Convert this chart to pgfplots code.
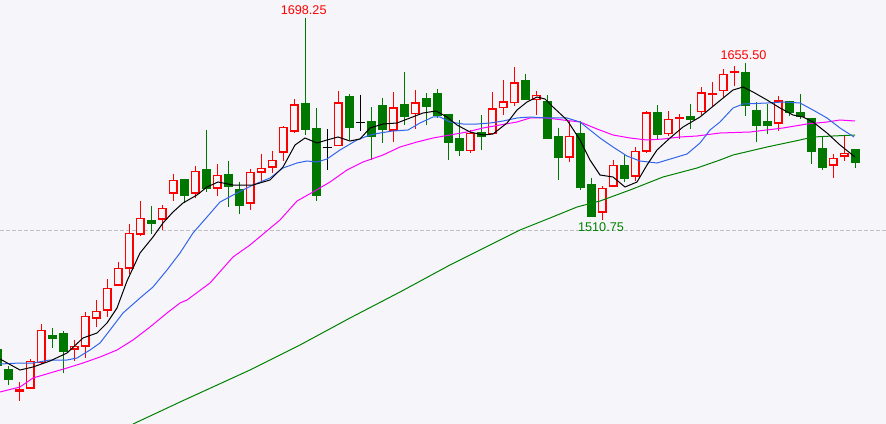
\documentclass[border=0pt]{standalone}
\usepackage{pgfplots}
\pgfplotsset{compat=1.18}
\usepackage{pgfplotstable}
\usepackage{fontspec}
\setmainfont{Liberation Sans}
\definecolor{bgc}{RGB}{246,246,250}
\definecolor{dn}{RGB}{0,120,0}
\definecolor{maG}{RGB}{0,128,0}
\definecolor{maB}{RGB}{50,100,235}
\definecolor{maM}{RGB}{255,0,255}
\definecolor{upc}{RGB}{255,0,0}

% candle values (vertical position, top = 0)
\pgfplotstableread{
i h c o l
2 382 389 391.5 401
3 359 360.5 388.5 388.5
4 324 329.5 363 363.5
7 339.5 345.5 349.5 360.5
8 312 316 346.5 358
9 300 311 318.5 326.5
10 279 287.5 310.5 316.5
11 261.5 267.5 285.5 285.5
12 223.5 232.5 268.5 274
13 201 217.5 234.5 235.5
15 205 207.5 219.5 230
16 173.5 179.5 193.5 200.5
18 166 170.5 193.5 197.5
20 164 174.5 188.5 195.5
23 168.5 171.5 203.5 209.5
24 153.5 167.5 172.5 181.5
25 150.5 159.5 167.5 172.5
26 126 126.5 152.5 160.5
27 99 104.5 131.5 132.5
31 91 102.5 146 146
36 92.5 107.5 130.5 141.5
38 90 102.5 114.5 128.5
43 130 133 151 152.5
45 92.5 108.5 134 134
46 80 101.5 108.5 115
47 67.5 82.5 103.5 106.5
49 91 95 100.5 115.5
52 121.5 135.5 157.5 161.5
55 186 188 212.5 219.5
56 160 165 186.5 186.5
58 146.5 151 176.5 181
59 111.5 112.5 151.5 153
61 111.5 119 134 136
62 114 117.3 118.7 138.5
64 87.5 92.5 112.5 115
65 82 93 95.5 106
66 69 74 91 97.5
67 66 71.3 73.3 86.5
71 96.5 100.5 123.5 131
76 154 157.5 165.5 177.5
77 135.5 152.5 156.5 160.5
}\tabUp

\pgfplotstableread{
i h o c l
0 345 349 366 370
1 366 369 380 385
5 328 335 339 348
6 331 333 351.5 372.5
14 206 219.5 223.5 234
17 179 179.3 195.7 203
19 130 169 189 191.5
21 161 173.5 186.5 206.5
22 181.5 188.5 205.5 213.5
28 18.3 103.5 129.5 135
29 108.5 127.5 195.5 201
32 94 96 127.5 140
34 107.5 121 136.5 160
35 98.5 105 130 142.5
37 72 104 117.5 124.5
39 93.5 98 107.5 124.5
40 89.5 93.5 116 118.5
41 114 114 142.5 160
42 120 138 150.5 156
44 115 132 136.5 149.5
48 74 80 100.5 100.5
50 95.5 101.5 138.5 138.5
51 127.5 136 157.5 180
53 121 133 187.5 190
54 177.5 184 216.5 216.5
57 154 165 178.5 181.5
60 105.5 112.5 135 140
63 104 116.5 120.5 129
68 63.5 72 106.5 116.5
69 102.5 110 126 141.5
70 104.5 121 126 133.5
72 101 101 113.5 116
73 94.5 112 117.5 119.5
74 118 118 151.5 163.5
75 136 148 167.5 169.5
78 149 149 162.5 167.5
}\tabDn

\pgfplotstableread{
i h oc l
30 129 147.5 169.5
33 95 122.5 130.5
}\tabDoji

\begin{document}
\begin{tikzpicture}
\begin{axis}[
  scale only axis, width=886bp, height=424bp,
  xmin=0, xmax=886, ymin=0, ymax=424, y dir=reverse,
  axis line style={draw=none}, ticks=none,
  axis background/.style={fill=bgc},
  clip=true,
]
% dashed reference line
\addplot[color={rgb,255:red,190;green,190;blue,195}, line width=0.8bp, dash pattern=on 4bp off 2bp] coordinates {(0,230.3) (886,230.3)};

% wicks
\addplot[upc, line width=1bp, -, quiver={u=0, v=\thisrow{l}-\thisrow{h}}]
  table[x expr=11*\thisrow{i}-3, y=h]{\tabUp};
\addplot[dn, line width=1bp, -, quiver={u=0, v=\thisrow{l}-\thisrow{h}}]
  table[x expr=11*\thisrow{i}-3, y=h]{\tabDn};
\addplot[black, line width=1bp, -, quiver={u=0, v=\thisrow{l}-\thisrow{h}}]
  table[x expr=11*\thisrow{i}-3, y=h]{\tabDoji};

% bodies
\addplot[upc, line width=9bp, -, quiver={u=0, v=\thisrow{c}-\thisrow{o}}]
  table[x expr=11*\thisrow{i}-3, y=o]{\tabUp};
\addplot[bgc, line width=6.4bp, -, quiver={u=0, v={min(\thisrow{c}-\thisrow{o}+2.6,0)}}]
  table[x expr=11*\thisrow{i}-3, y expr=\thisrow{o}-1.3]{\tabUp};
\addplot[dn, line width=9bp, -, quiver={u=0, v=\thisrow{c}-\thisrow{o}}]
  table[x expr=11*\thisrow{i}-3, y=o]{\tabDn};
\addplot[black, line width=1bp, -, quiver={u=9, v=0}]
  table[x expr=11*\thisrow{i}-7.5, y=oc]{\tabDoji};

% moving averages
\addplot[maG, line width=1bp] coordinates {
(133,424) (163,410) (180,402) (250,370) (300,345) (350,318) (400,292) (450,265) (500,240) (520,230) (550,218) (577,207) (600,201) (630,190) (663,177) (697,168) (720,160) (733,155) (767,147) (800,140) (813,137) (833,136) (855,135)};
\addplot[maM, line width=1bp] coordinates {
(0,392) (20,387) (33,378) (50,373) (67,368) (83,363) (100,357) (117,350) (133,340) (150,327) (167,313) (180,303) (187,300) (210,283) (233,257) (250,245) (280,220) (297,201) (313,192) (330,182) (347,170) (363,162) (383,155) (400,147) (417,142) (433,138) (450,135) (467,132) (483,128) (500,125) (517,122) (530,118) (547,118) (563,120) (580,122) (597,129) (613,135) (630,138) (647,140) (663,139) (680,137) (697,136) (720,133) (750,132) (783,128) (807,124) (827,122) (840,120) (855,121)};
\addplot[maB, line width=1bp] coordinates {
(0,364) (20,363) (33,363) (50,360) (67,360) (77,358) (90,350) (100,343) (110,330) (123,313) (140,298) (153,287) (167,270) (180,253) (193,233) (207,217) (220,202) (237,193) (253,185) (270,178) (283,168) (297,163) (307,161) (317,162) (327,159) (340,150) (357,140) (370,135) (380,133) (393,131) (408,130) (420,123) (433,117) (440,117) (450,122) (463,124) (477,124) (490,123) (503,121) (517,118) (530,117) (547,118) (567,118) (580,122) (590,130) (600,138) (613,147) (627,156) (640,161) (657,163) (677,157) (687,154) (700,143) (710,130) (720,122) (733,108) (743,104) (767,103) (783,102) (800,103) (813,110) (827,118) (840,128) (854,137)};
\addplot[black, line width=1bp] coordinates {
(0,359) (20,370) (33,367) (50,361) (67,353) (83,338) (97,333) (107,323) (117,308) (127,281) (140,253) (153,237) (163,223) (173,212) (183,203) (197,195) (207,187) (218,182) (233,185) (253,185) (270,180) (283,167) (295,145) (305,138) (317,143) (327,140) (338,137) (350,141) (360,139) (370,128) (383,124) (397,123) (410,118) (423,113) (436,111) (447,117) (457,125) (470,132) (483,135) (493,134) (507,123) (517,110) (527,102) (537,97) (545,99) (553,107) (567,120) (580,140) (590,160) (600,175) (613,177) (625,187) (637,182) (647,165) (657,150) (670,138) (683,127) (700,117) (717,103) (733,90) (743,87) (753,92) (767,100) (780,108) (793,115) (803,117) (813,122) (827,133) (840,145) (855,157)};

% extreme value labels
\node[text=upc, anchor=base, font=\fontsize{12.7}{14}\selectfont] at (axis cs:303.7,15) {1698.25};
\node[text=upc, anchor=base, font=\fontsize{12.7}{14}\selectfont] at (axis cs:743.5,60) {1655.50};
\node[text=maG, anchor=base, font=\fontsize{12.7}{14}\selectfont] at (axis cs:601,231.5) {1510.75};
\end{axis}
\end{tikzpicture}
\end{document}
